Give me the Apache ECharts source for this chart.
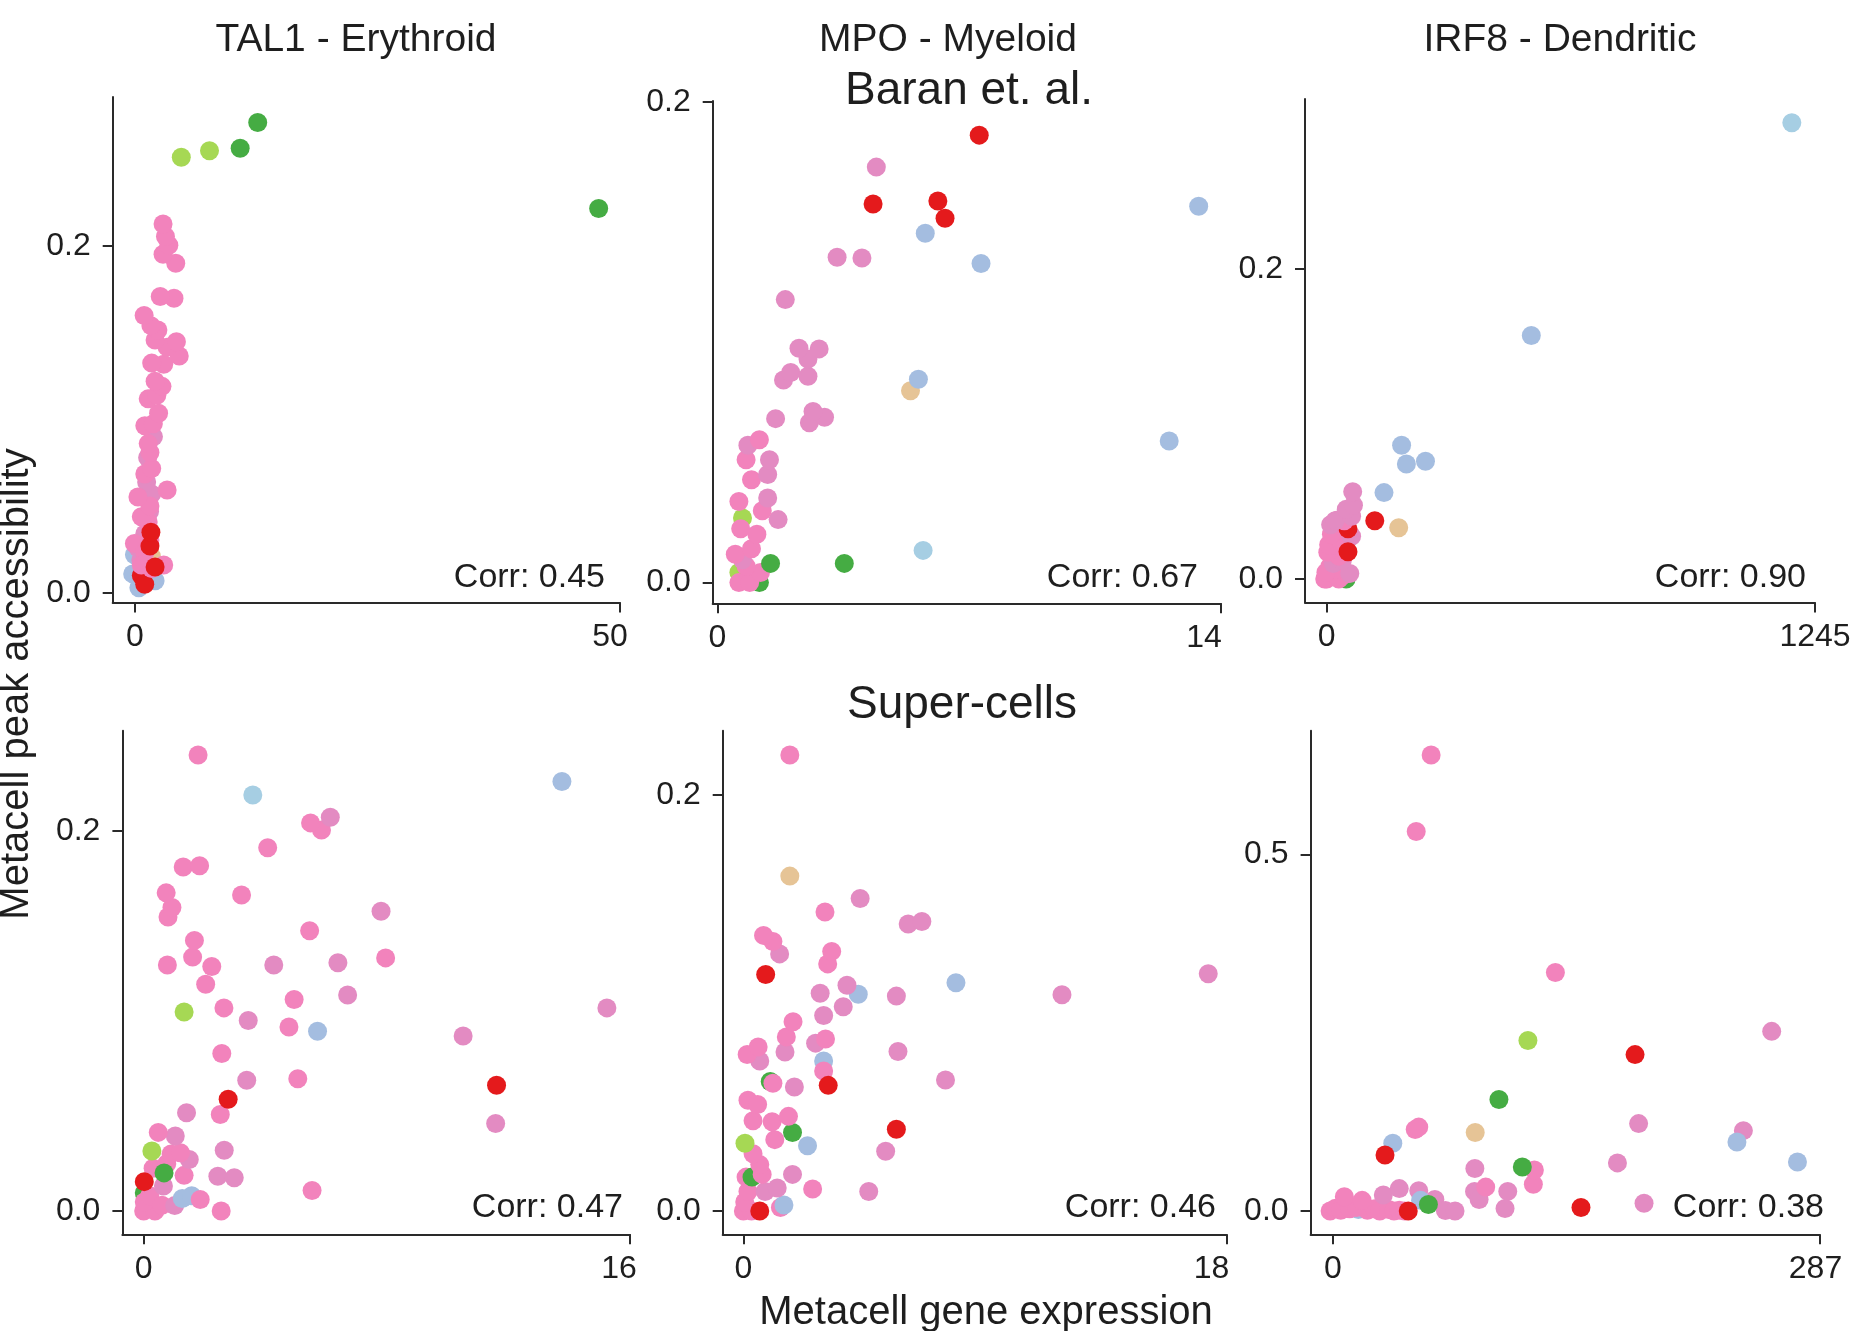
<!DOCTYPE html>
<html>
<head>
<meta charset="utf-8">
<script src="https://cdn.jsdelivr.net/npm/echarts@6/dist/echarts.min.js"></script>
<style>
  html, body { margin: 0; padding: 0; background: #ffffff; }
  #chart { width: 1856px; height: 1331px; }
</style>
</head>
<body>
<div id="chart"></div>
<script>
// Metacell gene expression (x) vs. peak accessibility (y) for three marker genes,
// in two datasets. Each point: [expression, accessibility, cell group].

const GENES = ['TAL1 - Erythroid', 'MPO - Myeloid', 'IRF8 - Dendritic'];
const DATASETS = ['Baran et. al.', 'Super-cells'];
const CORR = [0.45, 0.67, 0.90, 0.47, 0.46, 0.38];
const X_TICKS = [[0, 50], [0, 14], [0, 1245], [0, 16], [0, 18], [0, 287]];
const Y_TICKS = [[0, 0.2], [0, 0.2], [0, 0.2], [0, 0.2], [0, 0.2], [0, 0.5]];

const tal1Baran = [
  [-0.24, 0.011, 'steel'], [-0.06, 0.022, 'steel'], [2.07, 0.007, 'steel'], [0.4, 0.003, 'steel'],
  [1.7, 0.021, 'tan'],
  [0.3, 0.026, 'mauve'], [0.6, 0.019, 'mauve'], [1.0, 0.034, 'mauve'], [1.5, 0.047, 'mauve'],
  [1.7, 0.057, 'mauve'], [1.2, 0.064, 'mauve'], [1.3, 0.078, 'mauve'], [1.9, 0.090, 'mauve'],
  [0.65, 0.010, 'red'], [1.0, 0.005, 'red'],
  [-0.06, 0.0285, 'pink'], [1.01, 0.0233, 'pink'], [0.65, 0.0161, 'pink'], [2.96, 0.0161, 'pink'],
  [1.72, 0.0141, 'pink'], [1.54, 0.0305, 'pink'], [1.36, 0.0409, 'pink'], [0.65, 0.0439, 'pink'],
  [1.54, 0.0501, 'pink'], [0.30, 0.0553, 'pink'], [3.31, 0.0594, 'pink'], [1.01, 0.0686, 'pink'],
  [1.72, 0.0717, 'pink'], [1.54, 0.0810, 'pink'], [1.36, 0.0861, 'pink'], [1.01, 0.0964, 'pink'],
  [1.89, 0.0975, 'pink'], [2.43, 0.1036, 'pink'], [1.36, 0.1119, 'pink'], [2.25, 0.1139, 'pink'],
  [2.78, 0.1191, 'pink'], [2.07, 0.1221, 'pink'], [2.96, 0.1318, 'pink'], [1.72, 0.1325, 'pink'],
  [4.56, 0.1366, 'pink'], [3.31, 0.1417, 'pink'], [4.27, 0.1448, 'pink'], [2.07, 0.1458, 'pink'],
  [2.36, 0.1516, 'pink'], [1.64, 0.1541, 'pink'], [0.94, 0.1599, 'pink'], [4.02, 0.1699, 'pink'],
  [2.6, 0.1709, 'pink'], [4.2, 0.1901, 'pink'], [2.89, 0.1952, 'pink'], [3.49, 0.2004, 'pink'],
  [3.14, 0.2055, 'pink'], [2.89, 0.2127, 'pink'],
  [2.07, 0.015, 'red'], [1.54, 0.027, 'red'], [1.64, 0.035, 'red'],
  [4.77, 0.2512, 'lime'], [7.68, 0.2549, 'lime'],
  [10.84, 0.2564, 'green'], [12.65, 0.2712, 'green'], [47.8, 0.2216, 'green']
];

const mpoBaran = [
  [1.17, 0.0, 'green'], [0.60, 0.0042, 'lime'], [0.70, 0.0269, 'lime'],
  [0.60, 0.0, 'pink'], [0.90, 0.0, 'pink'], [1.20, 0.0042, 'pink'], [0.80, 0.0068, 'pink'],
  [0.70, 0.0095, 'mauve'], [0.50, 0.0118, 'pink'], [0.95, 0.0141, 'pink'], [1.10, 0.0201, 'pink'],
  [0.65, 0.0224, 'pink'], [1.69, 0.0262, 'mauve'], [1.25, 0.0299, 'pink'], [0.60, 0.0337, 'pink'],
  [1.40, 0.0352, 'mauve'], [0.95, 0.0428, 'pink'], [1.40, 0.0450, 'mauve'], [0.80, 0.0511, 'pink'],
  [1.45, 0.0511, 'mauve'], [0.85, 0.0571, 'mauve'], [1.17, 0.0594, 'pink'],
  [1.48, 0.008, 'green'], [3.53, 0.008, 'green'],
  [1.62, 0.0682, 'mauve'], [2.56, 0.0665, 'mauve'], [2.98, 0.0688, 'mauve'], [2.66, 0.0712, 'mauve'],
  [1.84, 0.0843, 'mauve'], [2.04, 0.0874, 'mauve'], [2.52, 0.0858, 'mauve'], [2.52, 0.0930, 'mauve'],
  [2.27, 0.0975, 'mauve'], [2.83, 0.0972, 'mauve'], [1.89, 0.1177, 'mauve'], [3.33, 0.1353, 'mauve'],
  [4.02, 0.1350, 'mauve'], [4.42, 0.1728, 'mauve'],
  [5.37, 0.0798, 'tan'], [5.59, 0.0846, 'steel'], [5.78, 0.1453, 'steel'], [7.33, 0.1327, 'steel'],
  [13.38, 0.1565, 'steel'], [12.56, 0.0589, 'steel'], [5.72, 0.0134, 'sky'],
  [4.33, 0.1575, 'red'], [6.13, 0.1587, 'red'], [6.33, 0.1515, 'red'], [7.28, 0.1861, 'red']
];

const irf8Baran = [
  [49.5, 0.0, 'green'],
  [0, 0, 'pink'], [-5, 0, 'pink'], [30.9, 0, 'pink'], [40, 0.002, 'pink'], [8, 0.008, 'pink'],
  [25, 0.006, 'pink'], [-2, 0.0042, 'pink'], [58.9, 0.0035, 'mauve'], [16.8, 0.0100, 'mauve'],
  [40, 0.012, 'mauve'], [30.9, 0.0147, 'pink'], [2.8, 0.0172, 'pink'], [21.4, 0.0217, 'pink'],
  [5, 0.022, 'pink'], [35, 0.025, 'pink'], [12, 0.0288, 'pink'], [63.5, 0.0276, 'mauve'],
  [10, 0.035, 'mauve'], [28, 0.038, 'mauve'],
  [54.3, 0.0175, 'red'], [54.3, 0.0323, 'red'],
  [44.9, 0.0375, 'pink'], [21.4, 0.0375, 'mauve'], [63.5, 0.0405, 'mauve'], [50, 0.045, 'mauve'],
  [68.3, 0.0475, 'mauve'], [66.3, 0.0562, 'mauve'],
  [122.6, 0.0375, 'red'], [183.6, 0.0330, 'tan'],
  [146.1, 0.0557, 'steel'], [191, 0.0863, 'steel'], [203.2, 0.0741, 'steel'], [251.9, 0.0759, 'steel'],
  [521.7, 0.1571, 'steel'], [1185.9, 0.2943, 'sky']
];

const tal1Super = [
  [0.02, 0.0094, 'green'],
  [0, 0, 'pink'], [0.37, 0, 'pink'], [0.02, 0.0047, 'pink'], [0.2, 0.008, 'pink'], [0.6, 0.003, 'pink'],
  [1.02, 0.0028, 'mauve'], [2.55, 0, 'pink'],
  [1.27, 0.0065, 'steel'], [1.58, 0.0080, 'steel'], [1.86, 0.0060, 'pink'],
  [0.65, 0.0131, 'mauve'], [0.31, 0.0225, 'pink'], [0.76, 0.0248, 'pink'], [0.67, 0.0200, 'green'],
  [1.33, 0.0187, 'pink'], [1.5, 0.027, 'mauve'], [0.9, 0.030, 'pink'], [1.21, 0.0306, 'pink'],
  [0.27, 0.0315, 'lime'], [1.04, 0.0394, 'mauve'], [0.48, 0.0413, 'pink'],
  [0.02, 0.0154, 'red'],
  [2.44, 0.0182, 'mauve'], [2.98, 0.0174, 'mauve'], [2.65, 0.0319, 'mauve'], [5.54, 0.0107, 'pink'],
  [1.41, 0.0516, 'mauve'], [2.52, 0.0507, 'pink'], [2.78, 0.0587, 'red'],
  [3.39, 0.0687, 'mauve'], [5.07, 0.0695, 'pink'], [11.61, 0.0661, 'red'], [11.58, 0.0460, 'mauve'],
  [2.57, 0.0828, 'pink'], [10.51, 0.0920, 'mauve'], [5.72, 0.0945, 'steel'], [4.78, 0.0967, 'pink'],
  [3.44, 0.1002, 'mauve'], [2.64, 0.1068, 'pink'], [1.33, 0.1046, 'lime'], [15.24, 0.1068, 'mauve'],
  [4.95, 0.1112, 'pink'], [6.71, 0.1136, 'mauve'], [2.04, 0.1192, 'pink'],
  [0.78, 0.1294, 'pink'], [2.24, 0.1286, 'pink'], [4.28, 0.1294, 'mauve'], [6.39, 0.1305, 'mauve'],
  [7.96, 0.1331, 'pink'], [1.61, 0.1335, 'pink'], [1.67, 0.1423, 'pink'], [5.46, 0.1474, 'pink'],
  [0.80, 0.1546, 'pink'], [0.93, 0.1596, 'pink'], [7.81, 0.1576, 'mauve'], [3.22, 0.1662, 'pink'],
  [0.74, 0.1673, 'pink'], [1.30, 0.1809, 'pink'], [1.84, 0.1816, 'pink'], [4.08, 0.1910, 'pink'],
  [5.85, 0.2004, 'pink'], [5.49, 0.2041, 'pink'], [6.14, 0.2071, 'mauve'],
  [3.59, 0.2188, 'sky'], [13.76, 0.2259, 'steel'], [1.79, 0.2398, 'pink']
];

const mpoSuper = [
  [0, 0, 'pink'], [0.30, 0, 'pink'], [0.05, 0.0043, 'pink'], [0.17, 0.0094, 'pink'],
  [0.81, 0.0094, 'mauve'], [0.10, 0.0163, 'pink'], [0.32, 0.0163, 'green'], [0.70, 0.0176, 'pink'],
  [0.61, 0.0223, 'pink'], [0.36, 0.0275, 'pink'], [1.38, 0.0017, 'pink'], [1.51, 0.0029, 'steel'],
  [0.61, 0, 'red'], [1.26, 0.0111, 'mauve'], [1.83, 0.0176, 'mauve'], [2.58, 0.0106, 'pink'],
  [4.67, 0.0094, 'mauve'],
  [0.06, 0.0326, 'lime'], [1.17, 0.0343, 'pink'], [2.39, 0.0314, 'steel'], [5.30, 0.0287, 'mauve'],
  [1.83, 0.0377, 'green'], [5.70, 0.0393, 'red'],
  [0.36, 0.0434, 'pink'], [1.07, 0.0429, 'pink'], [1.68, 0.0455, 'pink'], [0.17, 0.0532, 'pink'],
  [0.53, 0.0512, 'pink'],
  [1.00, 0.0623, 'green'], [1.10, 0.0614, 'pink'], [1.90, 0.0596, 'mauve'], [7.53, 0.0630, 'mauve'],
  [2.99, 0.0721, 'steel'], [2.99, 0.0673, 'pink'], [3.16, 0.0604, 'red'],
  [0.61, 0.0721, 'mauve'], [0.14, 0.0752, 'pink'], [0.55, 0.0789, 'pink'], [1.55, 0.0764, 'mauve'],
  [5.76, 0.0767, 'mauve'], [2.69, 0.0807, 'mauve'], [3.06, 0.0827, 'pink'], [1.60, 0.0837, 'pink'],
  [1.85, 0.0910, 'pink'], [2.99, 0.0940, 'mauve'], [3.72, 0.0982, 'mauve'],
  [2.86, 0.1047, 'mauve'], [4.28, 0.1042, 'steel'], [5.70, 0.1033, 'mauve'], [3.86, 0.1085, 'mauve'],
  [11.87, 0.1040, 'mauve'], [7.92, 0.1097, 'steel'], [17.32, 0.1141, 'mauve'], [0.83, 0.1137, 'red'],
  [3.14, 0.1188, 'pink'], [3.29, 0.1248, 'pink'], [1.35, 0.1236, 'mauve'], [1.10, 0.1296, 'pink'],
  [0.75, 0.1325, 'pink'],
  [6.14, 0.1380, 'mauve'], [6.65, 0.1392, 'mauve'], [3.04, 0.1437, 'pink'], [4.35, 0.1502, 'mauve'],
  [1.73, 0.1610, 'tan'], [1.73, 0.2192, 'pink']
];

const irf8Super = [
  [15, 0.002, 'steel'],
  [-1.7, 0, 'pink'], [1.5, 0.004, 'pink'], [4.6, 0.001, 'pink'], [9.8, 0.003, 'pink'],
  [14.0, 0.005, 'pink'], [20.3, 0.001, 'pink'], [24.5, 0.003, 'pink'], [27.6, 0, 'pink'],
  [32.8, 0.002, 'pink'], [36.0, 0, 'pink'], [39.1, 0.001, 'pink'], [42.2, 0, 'pink'],
  [6.7, 0.0199, 'pink'], [17.2, 0.0149, 'pink'],
  [29.7, 0.0224, 'mauve'], [39.1, 0.0314, 'mauve'], [50.6, 0.0285, 'mauve'], [60.1, 0.0160, 'mauve'],
  [66.3, 0.0008, 'mauve'], [72, 0, 'mauve'], [83.5, 0.0275, 'mauve'], [86.2, 0.0160, 'mauve'],
  [103.1, 0.0275, 'mauve'], [101.5, 0.0034, 'mauve'], [83.7, 0.0595, 'mauve'],
  [167.8, 0.0675, 'mauve'], [180.3, 0.1226, 'mauve'], [183.5, 0.0109, 'mauve'],
  [242.1, 0.1127, 'mauve'], [258.8, 0.2520, 'mauve'],
  [90.1, 0.0335, 'pink'], [118.2, 0.0375, 'pink'], [118.8, 0.0575, 'pink'],
  [48.5, 0.1142, 'pink'], [50.6, 0.1177, 'pink'], [131.2, 0.3346, 'pink'],
  [49.1, 0.5325, 'pink'], [57.9, 0.6397, 'pink'],
  [51.7, 0.0149, 'steel'], [35.3, 0.0951, 'steel'], [238.3, 0.0967, 'steel'], [274, 0.0686, 'steel'],
  [44.4, 0, 'red'], [30.7, 0.0786, 'red'], [146.3, 0.0049, 'red'], [178.2, 0.2194, 'red'],
  [56.3, 0.0090, 'green'], [111.7, 0.0616, 'green'], [97.9, 0.1563, 'green'],
  [115, 0.2393, 'lime'], [83.9, 0.1101, 'tan']
];

const PANEL_DATA = [tal1Baran, mpoBaran, irf8Baran, tal1Super, mpoSuper, irf8Super];

// Cell-group colours
const COLORS = {
  pink: '#F283BC',
  mauve: '#E38BC2',
  red: '#E41A1C',
  green: '#45AC43',
  lime: '#A6D854',
  sky: '#A6CEE3',
  steel: '#A4BDE0',
  tan: '#E6C496'
};

// Plot boxes in pixels [left, top, right, bottom] and the visible value ranges
const BOXES = [
  [112.7, 97, 620, 602.5], [712.7, 101, 1221, 603.3], [1305, 98.9, 1815, 602.5],
  [122.4, 730.7, 630, 1234.3], [722.7, 730.7, 1226.5, 1234.3], [1310.6, 730.7, 1819.5, 1234.3]
];
const X_RANGE = [[-2.30, 50], [-0.128, 14], [-55.3, 1245], [-0.70, 16], [-0.771, 18], [-13.2, 287]];
const Y_RANGE = [[-0.0055, 0.2859], [-0.0086, 0.2003], [-0.0152, 0.3097],
                 [-0.0123, 0.2526], [-0.0112, 0.2309], [-0.0327, 0.6738]];
// How far the end-of-axis label sits left of its tick (px)
const END_LABEL_SHIFT = [10, 17, 0, 11, 15, 4];
// Right edge / baseline of each correlation note
const CORR_AT = [[605, 590], [1198, 590], [1806, 590], [623, 1220], [1216, 1220], [1824, 1220]];

const FONT = '"Liberation Sans", Arial, Helvetica, sans-serif';
const INK = '#1e1e1e';
const AXIS = '#2a2a2a';

const grids = [], xAxes = [], yAxes = [], series = [], graphics = [];

BOXES.forEach((b, i) => {
  const xEnd = X_TICKS[i][X_TICKS[i].length - 1];
  grids.push({
    left: b[0], top: b[1], width: b[2] - b[0], height: b[3] - b[1],
    containLabel: false, outerBoundsMode: 'none'
  });
  xAxes.push({
    type: 'value', gridIndex: i, min: X_RANGE[i][0], max: X_RANGE[i][1],
    axisLine: { show: true, onZero: false, lineStyle: { color: AXIS, width: 2 } },
    axisTick: { show: true, length: 10, customValues: X_TICKS[i], lineStyle: { color: AXIS, width: 2 } },
    axisLabel: {
      customValues: X_TICKS[i], margin: 19, fontSize: 32, fontFamily: FONT, color: INK,
      formatter: v => {
        const s = String(Math.round(v));
        return Math.abs(v - xEnd) < 1e-9 ? '{end|' + s + '}' : s;
      },
      rich: {
        end: { fontSize: 32, fontFamily: FONT, color: INK, padding: [0, END_LABEL_SHIFT[i] * 2, 0, 0] }
      }
    },
    splitLine: { show: false }
  });
  yAxes.push({
    type: 'value', gridIndex: i, min: Y_RANGE[i][0], max: Y_RANGE[i][1],
    axisLine: { show: true, onZero: false, lineStyle: { color: AXIS, width: 2 } },
    axisTick: { show: true, length: 10, customValues: Y_TICKS[i], lineStyle: { color: AXIS, width: 2 } },
    axisLabel: {
      customValues: Y_TICKS[i], margin: 22, fontSize: 32, fontFamily: FONT, color: INK,
      formatter: v => v.toFixed(1)
    },
    splitLine: { show: false }
  });
  series.push({
    type: 'scatter', xAxisIndex: i, yAxisIndex: i,
    symbol: 'circle', symbolSize: 19, silent: true, clip: false,
    data: PANEL_DATA[i].map(([x, y, g]) => ({ value: [x, y], itemStyle: { color: COLORS[g], opacity: 1 } }))
  });
  graphics.push({
    type: 'text', x: CORR_AT[i][0], y: CORR_AT[i][1] - 12,
    style: {
      text: 'Corr: ' + CORR[i].toFixed(2), font: '34px ' + FONT, fill: INK,
      textAlign: 'right', textVerticalAlign: 'middle', align: 'right', verticalAlign: 'middle'
    }
  });
});

function label(text, x, y, size, rotation) {
  return {
    type: 'text', x: x, y: y, rotation: rotation || 0,
    style: {
      text: text, font: size + 'px ' + FONT, fill: INK,
      textAlign: 'center', textVerticalAlign: 'middle', align: 'center', verticalAlign: 'middle'
    }
  };
}

// Column headings (gene - lineage), dataset headings and shared axis titles
graphics.push(label(GENES[0], 356, 40, 39));
graphics.push(label(GENES[1], 948, 40, 39));
graphics.push(label(GENES[2], 1560, 40, 39));
graphics.push(label(DATASETS[0], 969, 91, 46));
graphics.push(label(DATASETS[1], 962, 705, 46));
graphics.push(label('Metacell gene expression', 986, 1313, 40));
graphics.push(label('Metacell peak accessibility', 17, 684, 40, Math.PI / 2));

const chart = echarts.init(document.getElementById('chart'), null, { renderer: 'canvas' });
chart.setOption({
  backgroundColor: '#ffffff',
  animation: false,
  grid: grids,
  xAxis: xAxes,
  yAxis: yAxes,
  series: series,
  graphic: { elements: graphics }
});
</script>
</body>
</html>
